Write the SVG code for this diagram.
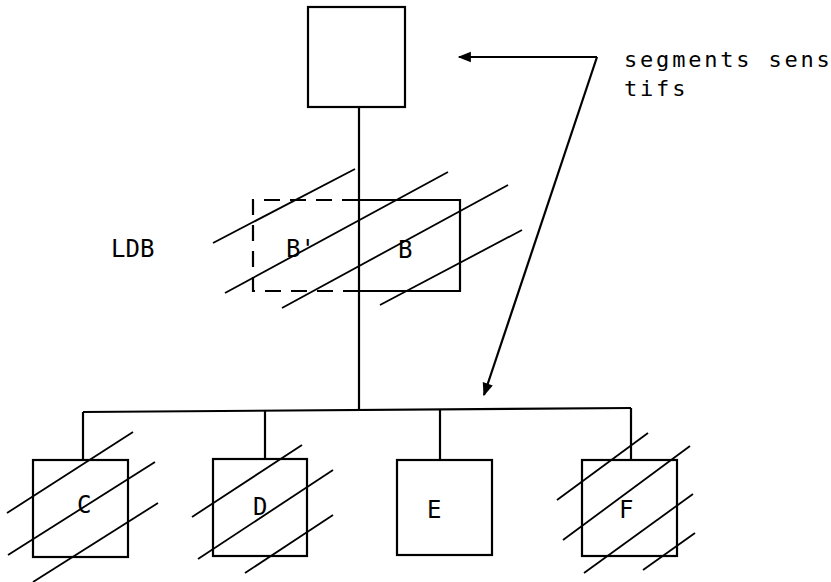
<svg xmlns="http://www.w3.org/2000/svg" width="831" height="582" viewBox="0 0 831 582">
  <defs>
    <marker id="head" viewBox="0 0 10 10" refX="9" refY="5" markerWidth="7" markerHeight="6" orient="auto" markerUnits="strokeWidth">
      <path d="M0,1 L10,5 L0,9 Z" fill="#000"/>
    </marker>
    <style>
      .box { fill: none; stroke: #000; stroke-width: 2.2; }
      .dash { fill: none; stroke: #000; stroke-width: 2.2; stroke-dasharray: 16 10; }
      .wire { fill: none; stroke: #000; stroke-width: 2.2; }
      .hatch { fill: none; stroke: #000; stroke-width: 1.8; }
      .lbl { font-family: "DejaVu Sans Mono", "Liberation Mono", monospace; font-size: 24px; fill: #000; }
      .note { font-family: "DejaVu Sans Mono", "Liberation Mono", monospace; font-size: 22px; letter-spacing: 2.8px; fill: #000; }
    </style>
  </defs>
  <rect width="831" height="582" fill="#fff"/>

  <!-- tree connectors -->
  <g id="connectors">
    <line class="wire" x1="359" y1="107" x2="359" y2="411"/>
    <line class="wire" x1="83" y1="412" x2="631" y2="408"/>
    <line class="wire" x1="83" y1="412" x2="83" y2="460"/>
    <line class="wire" x1="265" y1="411" x2="265" y2="459"/>
    <line class="wire" x1="440" y1="410" x2="440" y2="460"/>
    <line class="wire" x1="631" y1="408" x2="631" y2="460"/>
    <!-- pointer arrows from the note -->
    <line class="wire" x1="597" y1="57" x2="459" y2="57" marker-end="url(#head)"/>
    <line class="wire" x1="597" y1="57" x2="484" y2="395" marker-end="url(#head)"/>
  </g>

  <!-- root segment -->
  <g id="root">
    <rect class="box" x="308" y="7" width="97" height="100"/>
  </g>

  <!-- logical database segment B / B' -->
  <g id="ldb">
    <path class="dash" d="M358,200 H253 V291 H358"/>
    <path class="box" d="M358,200 H460 V291 H358"/>
    <text class="lbl" x="286" y="257">B'</text>
    <text class="lbl" x="398" y="258">B</text>
    <line class="hatch" x1="213" y1="243" x2="355" y2="169"/>
    <line class="hatch" x1="225" y1="293" x2="448" y2="172"/>
    <line class="hatch" x1="282" y1="308" x2="508" y2="185"/>
    <line class="hatch" x1="380" y1="305" x2="522" y2="230"/>
  </g>
  <text class="lbl" x="111" y="257">LDB</text>

  <!-- child segments -->
  <g id="nodeC">
    <rect class="box" x="33" y="460" width="95" height="97"/>
    <text class="lbl" x="77" y="513">C</text>
    <line class="hatch" x1="7" y1="513" x2="133" y2="432"/>
    <line class="hatch" x1="8" y1="555" x2="155" y2="462"/>
    <line class="hatch" x1="33" y1="582" x2="158" y2="503"/>
  </g>
  <g id="nodeD">
    <rect class="box" x="213" y="459" width="94" height="97"/>
    <text class="lbl" x="253" y="515">D</text>
    <line class="hatch" x1="192" y1="517" x2="302" y2="445"/>
    <line class="hatch" x1="198" y1="559" x2="333" y2="470"/>
    <line class="hatch" x1="245" y1="573" x2="333" y2="515"/>
  </g>
  <g id="nodeE">
    <rect class="box" x="397" y="460" width="95" height="95"/>
    <text class="lbl" x="427" y="518">E</text>
  </g>
  <g id="nodeF">
    <rect class="box" x="582" y="460" width="95" height="96"/>
    <text class="lbl" x="619" y="518">F</text>
    <line class="hatch" x1="557" y1="500" x2="648" y2="433"/>
    <line class="hatch" x1="563" y1="540" x2="690" y2="446"/>
    <line class="hatch" x1="584" y1="573" x2="693" y2="494"/>
    <line class="hatch" x1="643" y1="570" x2="695" y2="533"/>
  </g>

  <!-- note (runs past the right edge of the sheet) -->
  <g id="note">
    <text class="note" x="624" y="67">segments sens</text>
    <text class="note" x="624" y="96">tifs</text>
  </g>
</svg>
